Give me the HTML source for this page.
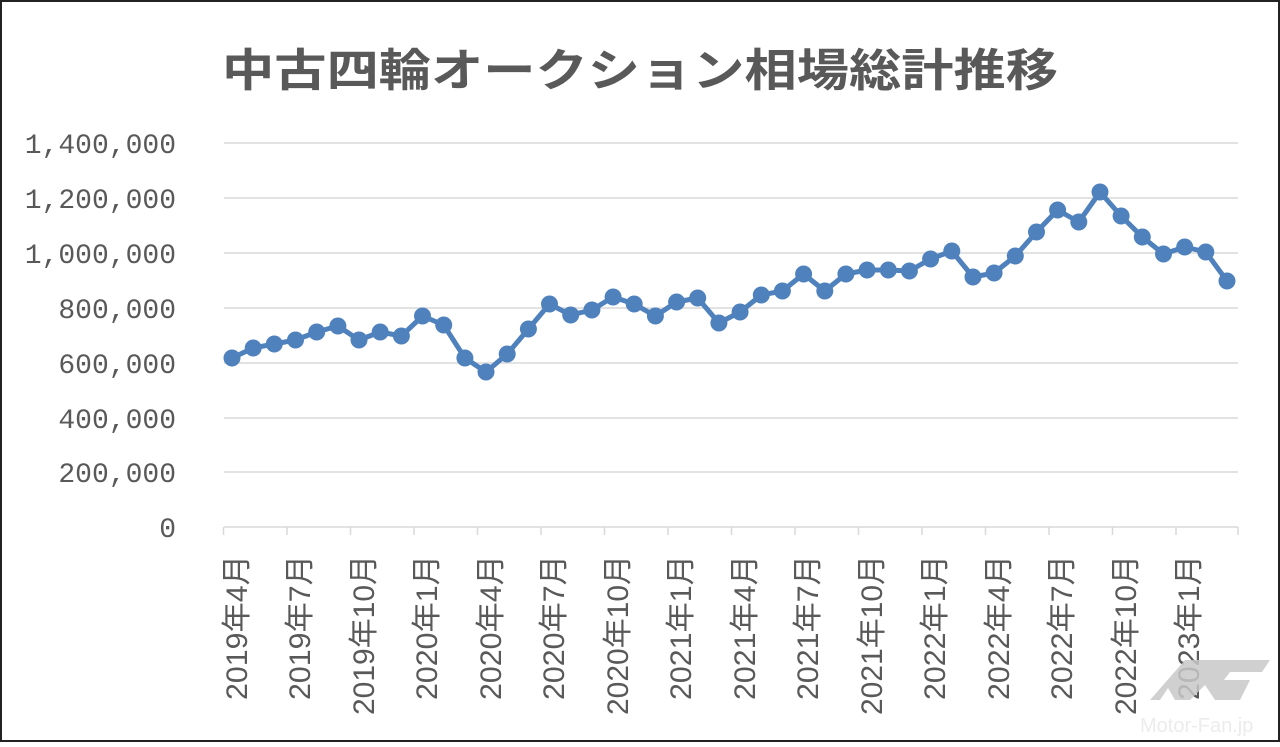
<!DOCTYPE html><html><head><meta charset="utf-8"><style>
html,body{margin:0;padding:0;background:#fff}
body{width:1280px;height:742px;overflow:hidden}
text{font-family:"Liberation Sans","Noto Sans CJK JP",sans-serif;fill:#595959}
.m{font-family:"Liberation Mono","Noto Sans CJK JP",monospace}
</style></head><body>
<svg width="1280" height="742" viewBox="0 0 1280 742" xmlns="http://www.w3.org/2000/svg">
<rect x="1" y="1" width="1278" height="740" fill="#fff" stroke="#222" stroke-width="2"/>
<text x="222" y="86" font-size="45" font-weight="bold" textLength="836" lengthAdjust="spacingAndGlyphs">中古四輪オークション相場総計推移</text>
<g stroke="#d9d9d9" stroke-width="1.5">
<line x1="224" x2="1238" y1="143" y2="143"/><line x1="224" x2="1238" y1="198" y2="198"/>
<line x1="224" x2="1238" y1="253" y2="253"/><line x1="224" x2="1238" y1="308" y2="308"/>
<line x1="224" x2="1238" y1="363" y2="363"/><line x1="224" x2="1238" y1="418" y2="418"/>
<line x1="224" x2="1238" y1="472" y2="472"/><line x1="224" x2="1238" y1="527" y2="527"/>
<path d="M223.5 527v8M287 527v8M350.5 527v8M414 527v8M477.5 527v8M541 527v8M604.5 527v8M668 527v8M731.5 527v8M795 527v8M858.5 527v8M922 527v8M985.5 527v8M1049 527v8M1112.5 527v8M1176 527v8M1238 527v8"/>
</g>
<g font-size="28" text-anchor="end" class="m">
<text class="m" x="176" y="153">1,400,000</text><text class="m" x="176" y="208">1,200,000</text>
<text class="m" x="176" y="263">1,000,000</text><text class="m" x="176" y="318">800,000</text>
<text class="m" x="176" y="373">600,000</text><text class="m" x="176" y="428">400,000</text>
<text class="m" x="176" y="482">200,000</text><text class="m" x="176" y="537">0</text>
</g>
<g font-size="30" text-anchor="end">
<text transform="translate(247,555) rotate(-90)" textLength="145" lengthAdjust="spacingAndGlyphs">2019年4月</text>
<text transform="translate(310,555) rotate(-90)" textLength="145" lengthAdjust="spacingAndGlyphs">2019年7月</text>
<text transform="translate(374,555) rotate(-90)" textLength="160" lengthAdjust="spacingAndGlyphs">2019年10月</text>
<text transform="translate(437,555) rotate(-90)" textLength="145" lengthAdjust="spacingAndGlyphs">2020年1月</text>
<text transform="translate(501,555) rotate(-90)" textLength="145" lengthAdjust="spacingAndGlyphs">2020年4月</text>
<text transform="translate(564,555) rotate(-90)" textLength="145" lengthAdjust="spacingAndGlyphs">2020年7月</text>
<text transform="translate(628,555) rotate(-90)" textLength="160" lengthAdjust="spacingAndGlyphs">2020年10月</text>
<text transform="translate(691,555) rotate(-90)" textLength="145" lengthAdjust="spacingAndGlyphs">2021年1月</text>
<text transform="translate(755,555) rotate(-90)" textLength="145" lengthAdjust="spacingAndGlyphs">2021年4月</text>
<text transform="translate(818,555) rotate(-90)" textLength="145" lengthAdjust="spacingAndGlyphs">2021年7月</text>
<text transform="translate(882,555) rotate(-90)" textLength="160" lengthAdjust="spacingAndGlyphs">2021年10月</text>
<text transform="translate(945,555) rotate(-90)" textLength="145" lengthAdjust="spacingAndGlyphs">2022年1月</text>
<text transform="translate(1009,555) rotate(-90)" textLength="145" lengthAdjust="spacingAndGlyphs">2022年4月</text>
<text transform="translate(1072,555) rotate(-90)" textLength="145" lengthAdjust="spacingAndGlyphs">2022年7月</text>
<text transform="translate(1136,555) rotate(-90)" textLength="160" lengthAdjust="spacingAndGlyphs">2022年10月</text>
<text transform="translate(1199,555) rotate(-90)" textLength="145" lengthAdjust="spacingAndGlyphs">2023年1月</text>
</g>
<g id="s"></g>
<polygon points="1150,700 1185,660 1270,660 1262,672 1230,672 1224,680 1250,680 1240,700 1215,700 1205,685 1190,700 1175,700 1168,688 1160,700" fill="#c8c8c8" opacity="0.85"/>
<text x="1140" y="732" font-size="20" style="fill:#ececec">Motor-Fan.jp</text>
<script>
var ys=[358,348,344,340,332,326,340,332,336,316,325,358,372,354,329,304,315,310,297,304,316,302,298,323,312,295,291,274,291,274,270,270,271,259,251,277,273,256,232,210,222,192,216,237,254,247,252,281];
var pts=ys.map(function(y,i){return (232+i*21.17).toFixed(1)+","+y});
var ns="http://www.w3.org/2000/svg",g=document.getElementById("s");
var pl=document.createElementNS(ns,"polyline");pl.setAttribute("points",pts.join(" "));
pl.setAttribute("fill","none");pl.setAttribute("stroke","#4f81bd");pl.setAttribute("stroke-width","5");pl.setAttribute("stroke-linejoin","round");g.appendChild(pl);
pts.forEach(function(p){var a=p.split(","),c=document.createElementNS(ns,"circle");c.setAttribute("cx",a[0]);c.setAttribute("cy",a[1]);c.setAttribute("r","8.5");c.setAttribute("fill","#4f81bd");g.appendChild(c);});
</script>
</svg>
</body></html>
